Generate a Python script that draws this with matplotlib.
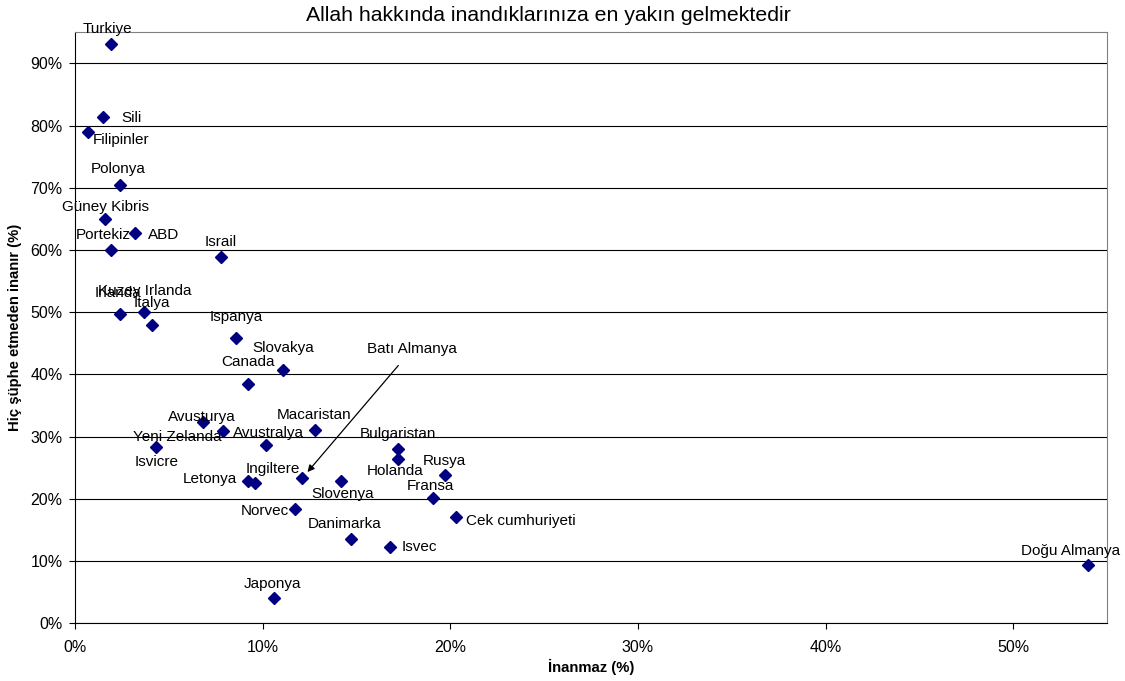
import matplotlib
matplotlib.use('Agg')
import matplotlib.pyplot as plt
from matplotlib.ticker import PercentFormatter

plt.rcParams['font.family'] = ['Liberation Sans', 'DejaVu Sans']

# data (fractions)
countries = ['Turkiye', 'Sili', 'Filipinler', 'Polonya', 'Güney Kibris', 'ABD',
             'Portekiz', 'Israil', 'Irlanda', 'Kuzey Irlanda', 'Italya', 'Ispanya',
             'Slovakya', 'Canada', 'Avusturya', 'Yeni Zelanda', 'Isvicre',
             'Avustralya', 'Macaristan', 'Letonya', 'Ingiltere', 'Batı Almanya',
             'Slovenya', 'Norvec', 'Danimarka', 'Japonya', 'Isvec', 'Bulgaristan',
             'Holanda', 'Rusya', 'Fransa', 'Cek cumhuriyeti', 'Doğu Almanya']
inanmaz = [0.019, 0.015, 0.007, 0.024, 0.016, 0.032,
           0.019, 0.078, 0.024, 0.037, 0.041, 0.086,
           0.111, 0.092, 0.068, 0.079, 0.043,
           0.102, 0.128, 0.092, 0.096, 0.121,
           0.142, 0.117, 0.147, 0.106, 0.168, 0.172,
           0.172, 0.197, 0.191, 0.203, 0.540]
inanir = [0.931, 0.814, 0.790, 0.705, 0.650, 0.628,
          0.600, 0.589, 0.498, 0.500, 0.480, 0.458,
          0.408, 0.385, 0.324, 0.309, 0.283,
          0.286, 0.311, 0.229, 0.225, 0.233,
          0.229, 0.184, 0.136, 0.040, 0.123, 0.280,
          0.264, 0.238, 0.201, 0.171, 0.094]

# label placement, offset in pixels from the marker (dx, dy, ha)
label_pos = {
    'Turkiye': (-3, 15, 'center'), 'Sili': (28, -1, 'center'),
    'Filipinler': (33, -8, 'center'), 'Polonya': (-2, 16, 'center'),
    'Güney Kibris': (0, 12, 'center'), 'ABD': (29, -2, 'center'),
    'Portekiz': (-7, 15, 'center'), 'Israil': (-1, 15, 'center'),
    'Irlanda': (-2, 21, 'center'), 'Kuzey Irlanda': (0, 21, 'center'),
    'Italya': (0, 22, 'center'), 'Ispanya': (0, 21, 'center'),
    'Slovakya': (0, 22, 'center'), 'Canada': (0, 22, 'center'),
    'Avusturya': (-1, 5, 'center'), 'Yeni Zelanda': (-46, -6, 'center'),
    'Isvicre': (1, -15, 'center'), 'Avustralya': (2, 12, 'center'),
    'Macaristan': (-1, 15, 'center'), 'Letonya': (-38, 2, 'center'),
    'Ingiltere': (18, 14, 'center'), 'Slovenya': (1, -13, 'center'),
    'Norvec': (-30, -2, 'center'), 'Danimarka': (-6, 15, 'center'),
    'Japonya': (-1, 14, 'center'), 'Isvec': (29, 0, 'center'),
    'Bulgaristan': (0, 15, 'center'), 'Holanda': (-3, -12, 'center'),
    'Rusya': (0, 14, 'center'), 'Fransa': (-3, 12, 'center'),
    'Cek cumhuriyeti': (10, -4, 'left'), 'Doğu Almanya': (-18, 14, 'center'),
}

fig = plt.figure(figsize=(11.25, 6.81), dpi=100)
ax = fig.add_axes([0.0667, 0.0847, 0.9173, 0.8678])

ax.plot(inanmaz, inanir, 'D', color='#000080', markersize=6, zorder=3)

for name, x, y in zip(countries, inanmaz, inanir):
    if name == 'Batı Almanya':
        ax.annotate(name, (x, y), xytext=(110, 129), textcoords='offset pixels',
                    ha='center', va='center', fontsize=11,
                    arrowprops=dict(arrowstyle='-|>', color='black', lw=0.9,
                                    mutation_scale=10, shrinkA=6, shrinkB=6))
        continue
    dx, dy, ha = label_pos[name]
    ax.annotate(name, (x, y), xytext=(dx, dy), textcoords='offset pixels',
                ha=ha, va='center', fontsize=11)

ax.set_xlim(0, 0.55)
ax.set_ylim(0, 0.95)
ax.set_xticks([0, 0.1, 0.2, 0.3, 0.4, 0.5])
ax.set_yticks([0, 0.1, 0.2, 0.3, 0.4, 0.5, 0.6, 0.7, 0.8, 0.9])
ax.xaxis.set_major_formatter(PercentFormatter(1.0, decimals=0))
ax.yaxis.set_major_formatter(PercentFormatter(1.0, decimals=0))
ax.tick_params(labelsize=11.5, length=4, color='black')
ax.tick_params(axis='x', pad=8)
ax.tick_params(axis='y', pad=5)
ax.yaxis.grid(True, color='black', lw=0.8)
ax.set_axisbelow(True)
ax.spines['top'].set_color('#808080')
ax.spines['right'].set_color('#808080')

ax.set_title('Allah hakkında inandıklarınıza en yakın gelmektedir', fontsize=15.3,
             x=0.459, pad=8)
ax.set_xlabel('İnanmaz (%)', fontsize=10.7, fontweight='bold', labelpad=3)
ax.set_ylabel('Hiç şüphe etmeden inanır (%)', fontsize=10.7, fontweight='bold', labelpad=6)

fig.savefig('out.png', dpi=100)
